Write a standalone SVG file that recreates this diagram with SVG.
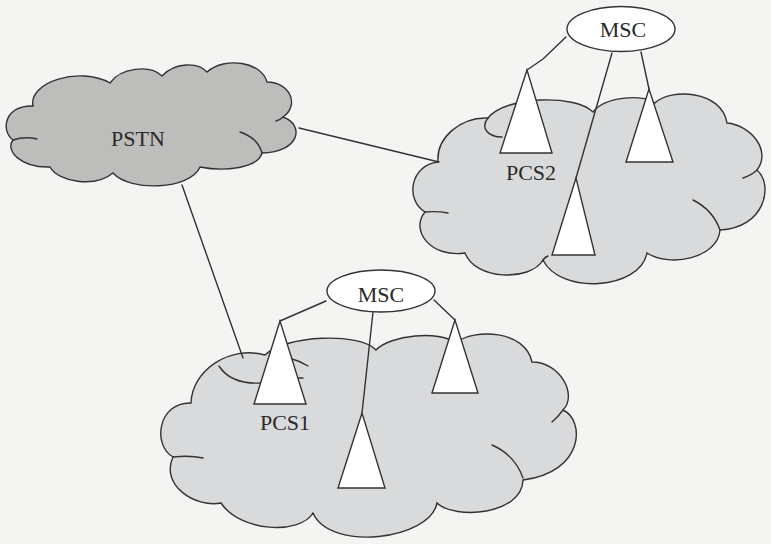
<svg xmlns="http://www.w3.org/2000/svg" width="771" height="544" viewBox="0 0 771 544">
<style>
.ln{fill:none;stroke:#333;stroke-width:1.4;stroke-linecap:round;stroke-linejoin:round}
.cloudA{fill:#bdbdbb;stroke:#333;stroke-width:1.4}
.cloudB{fill:#d9dadb;stroke:#333;stroke-width:1.4}
.tri{fill:#fff;stroke:#333;stroke-width:1.4;stroke-linejoin:miter}
.msc{fill:#fff;stroke:#333;stroke-width:1.4}
.t{font-family:"Liberation Serif","Times New Roman",serif;font-size:22px;fill:#2a2a2a;text-anchor:middle}
</style>
<rect width="771" height="544" fill="#f4f4f2"/>
<g id="pstn">
<path class="cloudA" d="M33,106 C28,82 80,66 110,83 C120,68 150,64 162,76 C175,62 198,62 207,72 C225,56 262,62 267,82 C290,82 300,105 283,117 C305,125 300,152 262,153 C258,168 225,172 200,167 C190,190 130,192 113,173 C95,188 58,182 50,167 C20,168 5,150 13,140 C0,130 5,105 33,106 Z"/>
<path class="ln" d="M13,140 Q25,136 37,139 M240,132 Q258,138 262,153 M283,117 Q280,120 276,121"/>
<text class="t" x="138" y="146">PSTN</text>
</g>
<g id="pcs2-cloud">
<path class="cloudB" d="M438,162 C436,138 460,117 488,118 C505,96 575,94 593,112 C605,96 645,94 655,103 C670,88 722,90 727,123 C750,125 772,150 757,170 C774,185 765,228 720,230 C718,258 670,268 647,253 C640,290 560,295 543,260 C530,282 475,280 465,253 C430,258 410,230 425,212 C405,200 410,165 438,162 Z"/>
<path class="ln" d="M488,118 C480,128 488,137 502,137 M757,170 Q752,175 743,178 M693,200 Q713,210 720,230 M425,212 Q437,211 448,213 M543,260 Q545,257 548,256"/>
</g>
<g id="pcs1-cloud">
<path class="cloudB" d="M191,403 C192,370 230,345 265,355 C285,335 360,332 376,350 C390,335 440,330 455,343 C475,328 525,330 532,362 C560,362 578,395 563,410 C585,420 585,472 523,480 C522,515 455,520 437,503 C430,540 330,552 313,513 C300,535 240,532 221,503 C195,508 160,485 173,457 C152,445 158,402 191,403 Z"/>
<path class="ln" d="M219,366 C228,380 245,384 262,383 M292,359 Q300,361 308,366 M297,378 L303,378 M563,410 Q558,417 552,422 M492,445 Q515,455 523,478 M173,457 Q190,455 203,458"/>
</g>
<g id="connectors">
<path class="ln" d="M299,128 L439,162"/>
<path class="ln" d="M182,185 L243,358"/>
<path class="ln" d="M566,37 L543,59 L527,70"/>
<path class="ln" d="M612,53 L576,178"/>
<path class="ln" d="M641,52 L649,89"/>
<path class="ln" d="M326,301 L280,321"/>
<path class="ln" d="M373,312 L362,413"/>
<path class="ln" d="M434,300 L455,320"/>
</g>
<g id="msc2">
<ellipse class="msc" cx="621" cy="29" rx="54" ry="22.5"/>
<text class="t" x="623" y="37">MSC</text>
</g>
<g id="msc1">
<ellipse class="msc" cx="381" cy="291" rx="54" ry="21"/>
<text class="t" x="381" y="302">MSC</text>
</g>
<g id="pcs2-bs1"><path class="tri" d="M527,70 L500,153 L552,153 Z"/></g>
<g id="pcs2-bs2"><path class="tri" d="M649,89 L626,162 L673,162 Z"/></g>
<g id="pcs2-bs3"><path class="tri" d="M576,178 L552,255 L595,255 Z"/></g>
<g id="pcs1-bs1"><path class="tri" d="M280,321 L254,404 L306,404 Z"/></g>
<g id="pcs1-bs2"><path class="tri" d="M455,320 L432,393 L478,393 Z"/></g>
<g id="pcs1-bs3"><path class="tri" d="M362,413 L338,488 L385,488 Z"/></g>
<g id="labels">
<text class="t" x="531" y="180">PCS2</text>
<text class="t" x="285" y="430">PCS1</text>
</g>
</svg>
